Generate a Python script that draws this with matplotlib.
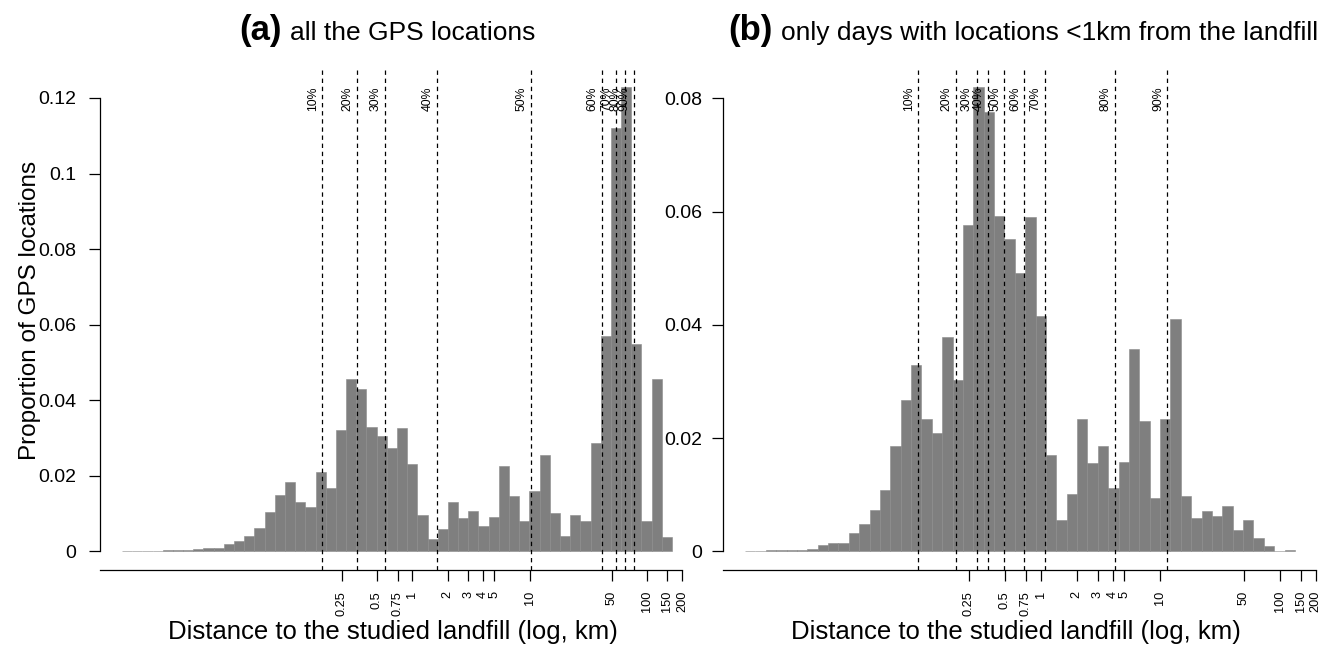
import numpy as np
import matplotlib
matplotlib.use("Agg")
import matplotlib.pyplot as plt
from matplotlib.ticker import NullLocator

plt.rcParams['font.family'] = ['Liberation Sans', 'DejaVu Sans']

W, H = 1331, 651

# histogram breaks: natural log of distance (km), width 0.2
bin_width_ln = 0.2
first_break_ln = -5.7

# (a) all GPS locations
props_all = [0.0001, 0.0001, 0.0002, 0.0002, 0.0003, 0.0003, 0.0005, 0.0007, 0.0010, 0.0010,
             0.0019, 0.0028, 0.0042, 0.0062, 0.0104, 0.0149, 0.0183, 0.0130, 0.0117, 0.0210,
             0.0167, 0.0320, 0.0455, 0.0430, 0.0329, 0.0306, 0.0273, 0.0327, 0.0231, 0.0096,
             0.0032, 0.0058, 0.0130, 0.0089, 0.0106, 0.0067, 0.0092, 0.0226, 0.0146, 0.0080,
             0.0160, 0.0255, 0.0101, 0.0042, 0.0097, 0.0080, 0.0287, 0.0570, 0.1120, 0.1230,
             0.0550, 0.0080, 0.0455, 0.0037]

# (b) only days with locations < 1 km from the landfill
props_near = [0.0001, 0.0001, 0.0003, 0.0003, 0.0003, 0.0003, 0.0005, 0.0011, 0.0014, 0.0014,
              0.0032, 0.0048, 0.0074, 0.0108, 0.0187, 0.0268, 0.0329, 0.0233, 0.0210, 0.0379,
              0.0302, 0.0577, 0.0821, 0.0776, 0.0593, 0.0552, 0.0492, 0.0590, 0.0416, 0.0170,
              0.0055, 0.0102, 0.0234, 0.0157, 0.0187, 0.0112, 0.0158, 0.0358, 0.0231, 0.0094,
              0.0234, 0.0410, 0.0098, 0.0059, 0.0071, 0.0062, 0.0081, 0.0037, 0.0055, 0.0023,
              0.0009, 0.0001, 0.0003]

pct_labels = ["10%", "20%", "30%", "40%", "50%", "60%", "70%", "80%", "90%"]
pct_all_km = [0.171, 0.337, 0.585, 1.64, 10.3, 41.7, 54.1, 64.6, 78.2]
pct_near_km = [0.0947, 0.195, 0.290, 0.365, 0.497, 0.731, 1.09, 4.17, 11.5]

x_ticks_km = [0.25, 0.5, 0.75, 1, 2, 3, 4, 5, 10, 50, 100, 150, 200]
x_tick_labels = ["0.25", "0.5", "0.75", "1", "2", "3", "4", "5", "10", "50", "100", "150", "200"]
y_ticks_all = [0, 0.02, 0.04, 0.06, 0.08, 0.10, 0.12]
y_labels_all = ["0", "0.02", "0.04", "0.06", "0.08", "0.1", "0.12"]
y_ticks_near = [0, 0.02, 0.04, 0.06, 0.08]
y_labels_near = ["0", "0.02", "0.04", "0.06", "0.08"]

title_tags = ["(a)", "(b)"]
title_texts = ["all the GPS locations", "only days with locations <1km from the landfill"]
xlabel_text = "Distance to the studied landfill (log, km)"
ylabel_text = "Proportion of GPS locations"

BAR = '#7f7f7f'

fig = plt.figure(figsize=(W / 100, H / 100), dpi=100)


def panel(left_px, props, pcts, yticks, ylabels, ypad):
    n = len(props)
    edges_ln = first_break_ln + bin_width_ln * np.arange(n + 1)
    edges = np.exp(edges_ln)
    span = edges_ln[-1] - edges_ln[0]
    xlim = np.exp([edges_ln[0] - 0.04 * span, edges_ln[-1] + 0.04 * span])
    ymax = max(props)
    ax = fig.add_axes([left_px / W, 1 - 570 / H, 594 / W, 502 / H])
    ax.set_xscale('log')
    ax.bar(edges[:-1], props, width=np.diff(edges), align='edge',
           color=BAR, edgecolor='#8a8a8a', linewidth=0.4, zorder=1)
    for p, lab in zip(pcts, pct_labels):
        ax.axvline(p, color='black', lw=0.9, linestyle=(0, (3.5, 3)), zorder=2)
        ax.annotate(lab, xy=(p, ymax), xytext=(-2.5, 0), textcoords='offset points',
                    rotation=90, ha='right', va='top', fontsize=8.8, zorder=3)
    ax.set_xlim(*xlim)
    ax.set_ylim(-0.04 * ymax, 1.04 * ymax)
    for s in ['top', 'right']:
        ax.spines[s].set_visible(False)
    ax.spines['left'].set_bounds(0, yticks[-1])
    ax.spines['bottom'].set_bounds(xlim[0], x_ticks_km[-1])
    for s in ['left', 'bottom']:
        ax.spines[s].set_linewidth(0.9)
    ax.set_xticks(x_ticks_km)
    ax.set_xticklabels(x_tick_labels, rotation=90)
    ax.xaxis.set_minor_locator(NullLocator())
    ax.set_yticks(yticks)
    ax.set_yticklabels(ylabels)
    ax.tick_params(axis='x', direction='out', length=8, width=0.9, pad=7, labelsize=9.2)
    ax.tick_params(axis='y', direction='out', length=8, width=0.9, pad=ypad, labelsize=14)
    ax.patch.set_alpha(0)
    return ax


ax_a = panel(100, props_all, pct_all_km, y_ticks_all, y_labels_all, 9)
ax_b = panel(723, props_near, pct_near_km, y_ticks_near, y_labels_near, 7)

# axis labels
for left_px in (100, 723):
    fig.text((left_px + 293) / W, 1 - 632 / H, xlabel_text, ha='center', va='center', fontsize=18.5)
fig.text(30 / W, 1 - 310 / H, ylabel_text, rotation=90, ha='center', va='center', fontsize=17.5)

# titles: bold tag followed by normal text
renderer = fig.canvas.get_renderer()
for tag, txt, right_px in zip(title_tags, title_texts, (535, 1318)):
    t = fig.text(right_px / W, 1 - 40 / H, txt, ha='right', va='baseline', fontsize=19)
    bb = t.get_window_extent(renderer)
    fig.text((bb.x0 - 8) / W, 1 - 40 / H, tag, ha='right', va='baseline',
             fontsize=25, fontweight='bold')

fig.savefig('out.png', dpi=100)
